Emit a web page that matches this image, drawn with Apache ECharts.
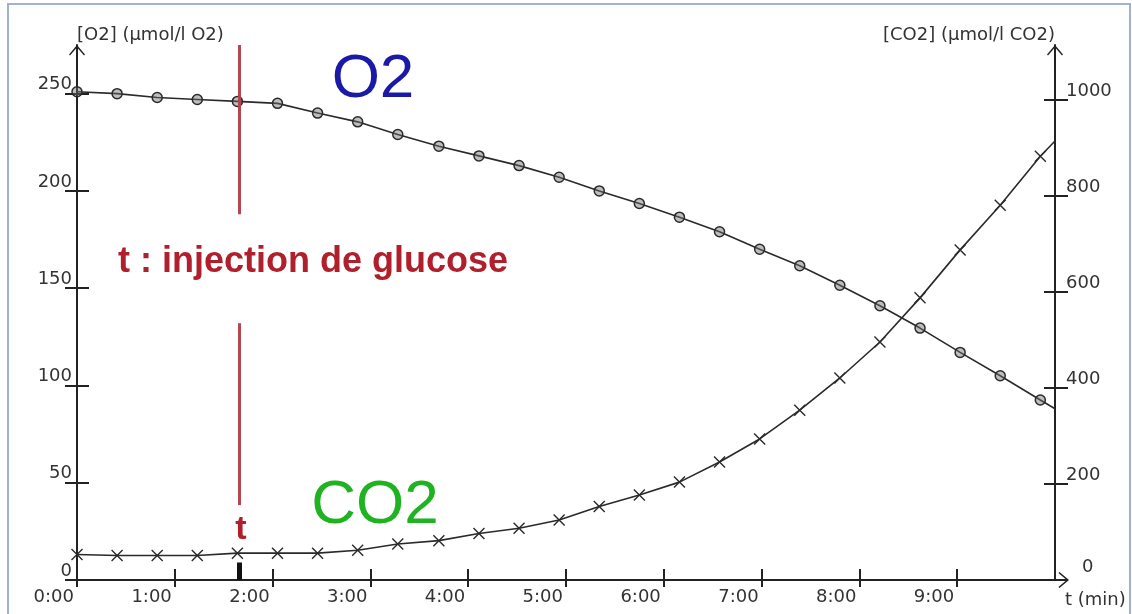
<!DOCTYPE html>
<html><head><meta charset="utf-8">
<script src="https://cdn.jsdelivr.net/npm/echarts@6/dist/echarts.min.js"></script>
<style>html,body{margin:0;padding:0;background:#fff;overflow:hidden}#c{width:1132px;height:614px}</style>
</head><body><div id="c"></div>
<script>
// ---- data ----
const timeMin = [0, 0.41, 0.82, 1.23, 1.64, 2.05, 2.46, 2.87, 3.28, 3.70, 4.11, 4.52, 4.93,
                 5.34, 5.75, 6.16, 6.57, 6.98, 7.39, 7.80, 8.21, 8.62, 9.03, 9.44, 9.85, 10.0];
const o2Values = [251, 250, 248, 247, 246, 245, 240, 235.5, 229, 223, 218, 213, 207,
                  200, 193.5, 186.5, 179, 170, 161.5, 151.5, 141, 129.5, 117, 105, 92.5, 88];
const co2Values = [53, 51, 51, 51, 56, 56, 56, 62, 75, 82, 97, 108, 125,
                   153, 177, 204, 246, 294, 354, 421, 496, 588, 688, 781, 883, 915];
const xTickValues = [0, 1, 2, 3, 4, 5, 6, 7, 8, 9];
const xTickLabels = ['0:00', '1:00', '2:00', '3:00', '4:00', '5:00', '6:00', '7:00', '8:00', '9:00'];
const o2Ticks = [0, 50, 100, 150, 200, 250];
const co2Ticks = [0, 200, 400, 600, 800, 1000];
const injectionTime = 1.66;
const injectionSegments = [[275, 188], [132, 38.5]];
const injectionMark = [0, 9];

// ---- chart ----
const AX = '#222';
const TXT = '#333';
const ARROW = 'path://M8,0 L16,9.5 L15,10.6 L8.75,3.2 L8.75,24 L7.25,24 L7.25,3.2 L1,10.6 L0,9.5 Z';
const XMARK = 'path://M0,0 L10,10 M10,0 L0,10';
const labelFont = { fontFamily: 'DejaVu Sans', fontSize: 18, color: TXT };

function pts(vals) {
  return timeMin.map((t, i) => {
    const p = { value: [t, vals[i]] };
    if (i === timeMin.length - 1) p.symbol = 'none';
    return p;
  });
}

const chart = echarts.init(document.getElementById('c'), null, { renderer: 'canvas', width: 1132, height: 614 });
const option = {
  animation: false,
  backgroundColor: '#fff',
  grid: { left: 77, right: 77, top: 45, bottom: 34, containLabel: false, outerBoundsMode: 'none' },
  xAxis: [
    {
      type: 'value', min: 0, max: 10, position: 'bottom',
      axisLine: { show: true, lineStyle: { color: AX, width: 2 }, symbol: ['none', ARROW], symbolSize: [16, 24], symbolOffset: [0, 2] },
      axisTick: { show: true, inside: true, length: 11, customValues: xTickValues, lineStyle: { color: AX, width: 2 } },
      axisLabel: Object.assign({ customValues: xTickValues, formatter: v => xTickLabels[xTickValues.indexOf(v)], align: 'right', margin: 8, padding: [0, 3, 0, 0] }, labelFont),
      splitLine: { show: false },
      name: 't (min)', nameLocation: 'end', nameGap: 10, nameMoveOverlap: false,
      nameTextStyle: Object.assign({ align: 'left', verticalAlign: 'top', lineHeight: 40 }, labelFont)
    },
    {
      type: 'value', min: 0, max: 10, position: 'bottom',
      axisLine: { show: false },
      axisTick: { show: true, inside: false, length: 7, customValues: xTickValues, lineStyle: { color: AX, width: 2 } },
      axisLabel: { show: false }, splitLine: { show: false }
    }
  ],
  yAxis: [
    {
      type: 'value', min: 0, max: 275, position: 'left',
      axisLine: { show: true, lineStyle: { color: AX, width: 2 }, symbol: ['none', ARROW], symbolSize: [16, 24], symbolOffset: [0, -12] },
      axisTick: { show: true, inside: true, length: 12, customValues: o2Ticks, lineStyle: { color: AX, width: 2 } },
      axisLabel: Object.assign({ customValues: o2Ticks, formatter: v => String(v), verticalAlign: 'bottom', margin: 5 }, labelFont),
      splitLine: { show: false },
      name: '[O2] (\u03bcmol/l O2)', nameLocation: 'end', nameGap: 1, nameMoveOverlap: false,
      nameTextStyle: Object.assign({ align: 'left', verticalAlign: 'bottom' }, labelFont)
    },
    {
      type: 'value', min: 0, max: 275, position: 'left',
      axisLine: { show: false },
      axisTick: { show: true, inside: false, length: 12, customValues: o2Ticks, lineStyle: { color: AX, width: 2 } },
      axisLabel: { show: false }, splitLine: { show: false }
    },
    {
      type: 'value', min: 0, max: 1115, position: 'right',
      axisLine: { show: true, lineStyle: { color: AX, width: 2 }, symbol: ['none', ARROW], symbolSize: [16, 24], symbolOffset: [0, -12] },
      axisTick: { show: true, inside: true, length: 11, customValues: co2Ticks, lineStyle: { color: AX, width: 2 } },
      axisLabel: Object.assign({
        customValues: co2Ticks, verticalAlign: 'bottom', margin: 11,
        formatter: v => (v === 0 ? '{z|0}' : String(v)),
        rich: { z: { fontFamily: 'DejaVu Sans', fontSize: 18, color: TXT, padding: [0, 0, 4, 16] } }
      }, labelFont),
      splitLine: { show: false },
      name: '[CO2] (\u03bcmol/l CO2)', nameLocation: 'end', nameGap: 1, nameMoveOverlap: false,
      nameTextStyle: Object.assign({ align: 'right', verticalAlign: 'bottom' }, labelFont)
    },
    {
      type: 'value', min: 0, max: 1115, position: 'right',
      axisLine: { show: false },
      axisTick: { show: true, inside: false, length: 13, customValues: co2Ticks, lineStyle: { color: AX, width: 2 } },
      axisLabel: { show: false }, splitLine: { show: false }
    }
  ],
  series: [
    {
      name: 'O2', type: 'line', xAxisIndex: 0, yAxisIndex: 0,
      data: pts(o2Values),
      symbol: 'circle', symbolSize: 10,
      itemStyle: { color: 'rgba(110,110,110,0.45)', borderColor: '#2a2a2a', borderWidth: 1.5 },
      lineStyle: { color: '#2a2a2a', width: 1.6 },
      z: 3,
      markLine: {
        silent: true, symbol: ['none', 'none'], label: { show: false },
        lineStyle: { color: '#b3474f', width: 3, type: 'solid' },
        emphasis: { disabled: true },
        data: injectionSegments.map(s => [{ coord: [injectionTime, s[0]] }, { coord: [injectionTime, s[1]] }])
          .concat([[{ coord: [injectionTime, injectionMark[0]], lineStyle: { color: '#111', width: 5, type: 'solid' } },
                    { coord: [injectionTime, injectionMark[1]] }]])
      }
    },
    {
      name: 'CO2', type: 'line', xAxisIndex: 0, yAxisIndex: 2,
      data: pts(co2Values),
      symbol: XMARK, symbolSize: 11,
      itemStyle: { color: 'transparent', borderColor: '#2a2a2a', borderWidth: 1.4 },
      lineStyle: { color: '#2a2a2a', width: 1.6 },
      z: 3
    }
  ],
  graphic: [
    { type: 'rect', silent: true, shape: { x: 8, y: 4, width: 1122, height: 640 },
      style: { fill: 'none', stroke: '#9fb2d2', lineWidth: 2 }, z: -1 },
    { type: 'text', silent: true, x: 373, y: 80,
      style: { text: 'O2', fill: '#1a1aa6', fontSize: 62, fontFamily: 'Liberation Sans', align: 'center', verticalAlign: 'middle' } },
    { type: 'text', silent: true, x: 375, y: 506,
      style: { text: 'CO2', fill: '#1fb321', fontSize: 62, fontFamily: 'Liberation Sans', align: 'center', verticalAlign: 'middle' } },
    { type: 'text', silent: true, x: 313, y: 262,
      style: { text: 't : injection de glucose', fill: '#b01f2c', fontSize: 36, fontWeight: 'bold', fontFamily: 'Liberation Sans', align: 'center', verticalAlign: 'middle' } },
    { type: 'text', silent: true, x: 241, y: 530,
      style: { text: 't', fill: '#b01f2c', fontSize: 34, fontWeight: 'bold', fontFamily: 'Liberation Sans', align: 'center', verticalAlign: 'middle' } }
  ]
};
chart.setOption(option);
</script>
</body></html>
